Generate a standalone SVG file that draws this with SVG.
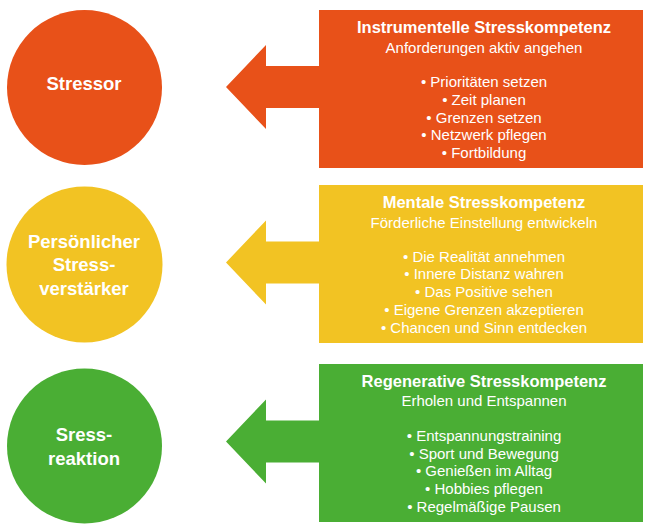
<svg xmlns="http://www.w3.org/2000/svg" width="646" height="524" viewBox="0 0 646 524">
<style>
  .o { fill: #E85119; }
  .y { fill: #F2C323; }
  .g { fill: #4AAE34; }
  text { font-family: "Liberation Sans", Arial, Helvetica, sans-serif; fill: #FFFFFF; text-anchor: middle; }
  .ct { font-size: 18.5px; font-weight: bold; }
  .tt { font-size: 16.5px; font-weight: bold; }
  .st { font-size: 15px; }
  .bl { font-size: 15px; }
</style>
<rect width="646" height="524" fill="#FFFFFF"/>

<g id="connectors">
  <polygon class="o" points="226,87 266,45 266,66 321,66 321,108 266,108 266,129"/>
  <polygon class="y" points="226,262.5 266,220.5 266,241.5 321,241.5 321,283.5 266,283.5 266,304.5"/>
  <polygon class="g" points="226,441.5 266,399.5 266,420.5 321,420.5 321,462.5 266,462.5 266,483.5"/>
</g>

<g id="stressor">
  <circle class="o" cx="84.5" cy="87.5" r="77.5"/>
  <text class="ct" x="84" y="90">Stressor</text>
</g>

<g id="verstaerker">
  <circle class="y" cx="84.5" cy="264.5" r="78"/>
  <text class="ct" x="84" y="247.5">Persönlicher</text>
  <text class="ct" x="84" y="271">Stress-</text>
  <text class="ct" x="84" y="294.5">verstärker</text>
</g>

<g id="reaktion">
  <circle class="g" cx="84.5" cy="446" r="77.5"/>
  <text class="ct" x="84" y="441">Sress-</text>
  <text class="ct" x="84" y="465">reaktion</text>
</g>

<g id="instrumentelle">
  <rect class="o" x="319" y="10" width="324" height="158"/>
  <text class="tt" x="484" y="33">Instrumentelle Stresskompetenz</text>
  <text class="st" x="484" y="53">Anforderungen aktiv angehen</text>
  <text class="bl" x="484" y="87">• Prioritäten setzen</text>
  <text class="bl" x="484" y="104.8">• Zeit planen</text>
  <text class="bl" x="484" y="122.6">• Grenzen setzen</text>
  <text class="bl" x="484" y="140.4">• Netzwerk pflegen</text>
  <text class="bl" x="484" y="158.2">• Fortbildung</text>
</g>

<g id="mentale">
  <rect class="y" x="319" y="185" width="324" height="158"/>
  <text class="tt" x="484" y="207.5">Mentale Stresskompetenz</text>
  <text class="st" x="484" y="227.5">Förderliche Einstellung entwickeln</text>
  <text class="bl" x="484" y="261.7">• Die Realität annehmen</text>
  <text class="bl" x="484" y="279.4">• Innere Distanz wahren</text>
  <text class="bl" x="484" y="297.2">• Das Positive sehen</text>
  <text class="bl" x="484" y="315">• Eigene Grenzen akzeptieren</text>
  <text class="bl" x="484" y="332.8">• Chancen und Sinn entdecken</text>
</g>

<g id="regenerative">
  <rect class="g" x="319" y="364" width="324" height="158"/>
  <text class="tt" x="484" y="386.5">Regenerative Stresskompetenz</text>
  <text class="st" x="484" y="406">Erholen und Entspannen</text>
  <text class="bl" x="484" y="440.7">• Entspannungstraining</text>
  <text class="bl" x="484" y="458.5">• Sport und Bewegung</text>
  <text class="bl" x="484" y="476.3">• Genießen im Alltag</text>
  <text class="bl" x="484" y="494">• Hobbies pflegen</text>
  <text class="bl" x="484" y="511.8">• Regelmäßige Pausen</text>
</g>
</svg>
